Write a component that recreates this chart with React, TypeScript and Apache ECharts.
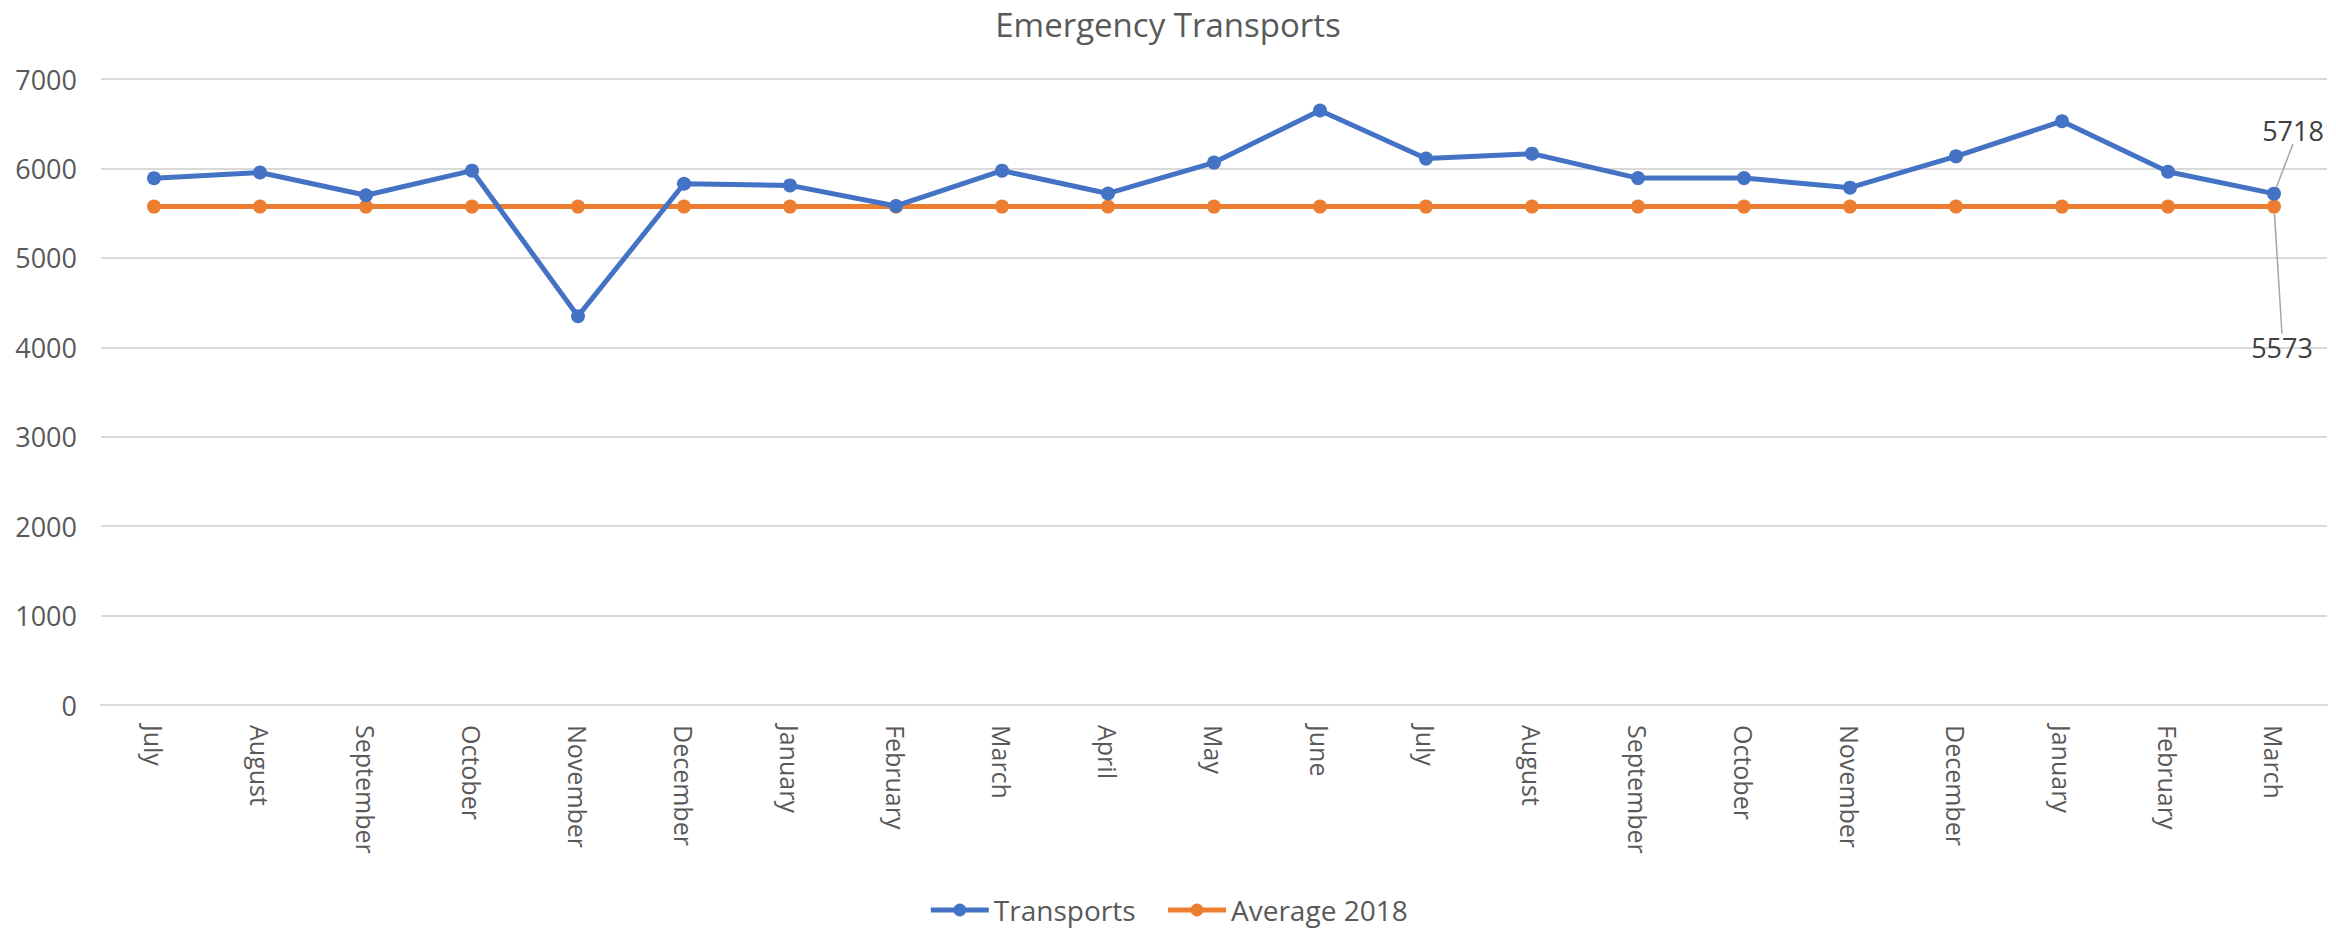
import React, { useEffect, useRef } from "react";
import * as echarts from "echarts";

const categories = [
  "July", "August", "September", "October", "November", "December", "January",
  "February", "March", "April", "May", "June", "July", "August", "September",
  "October", "November", "December", "January", "February", "March",
];
const transports = [
  5890, 5955, 5700, 5975, 4348, 5828, 5810, 5580, 5975, 5720, 6065, 6648,
  6110, 6165, 5892, 5892, 5785, 6135, 6528, 5963, 5718,
];
const average2018 = categories.map(() => 5573);
const yTicks = { min: 0, max: 7000, interval: 1000 };

export default function App() {
  const ref = useRef<HTMLDivElement>(null);
  useEffect(() => {
    if (!ref.current) return;
    const chart = echarts.init(ref.current, undefined, { renderer: "svg" });
    const last = transports.length - 1;
    chart.setOption({
      animation: false,
      backgroundColor: "#ffffff",
      title: {
        text: "Emergency Transports",
        left: "center",
        top: 3,
        textStyle: { fontFamily: "Open Sans", fontSize: 33, fontWeight: "normal", color: "#595959" },
      },
      legend: {
        bottom: 4,
        left: "center",
        itemWidth: 58,
        itemHeight: 16,
        itemGap: 30,
        textStyle: { fontFamily: "Open Sans", fontSize: 28, color: "#595959" },
        lineStyle: { width: 5 },
        data: ["Transports", "Average 2018"],
      },
      grid: { left: 101, right: 9, top: 79, bottom: 228, containLabel: false },
      xAxis: {
        type: "category",
        data: categories,
        boundaryGap: true,
        axisLine: { show: true, lineStyle: { color: "#D9D9D9", width: 2 } },
        axisTick: { show: false },
        axisLabel: {
          interval: 0,
          rotate: -90,
          margin: 20,
          fontFamily: "Open Sans",
          fontSize: 25,
          color: "#595959",
        },
      },
      yAxis: {
        type: "value",
        min: yTicks.min,
        max: yTicks.max,
        interval: yTicks.interval,
        axisLine: { show: false },
        axisTick: { show: false },
        axisLabel: {
          fontFamily: "Open Sans",
          fontSize: 27,
          color: "#595959",
          margin: 24,
          formatter: (v: number) => String(v),
        },
        splitLine: { lineStyle: { color: "#D9D9D9", width: 2 } },
      },
      series: [
        {
          name: "Transports",
          type: "line",
          data: transports.map((v, i) =>
            i === last
              ? { value: v, label: { show: true, position: "top" } }
              : v
          ),
          symbol: "circle",
          symbolSize: 14,
          lineStyle: { color: "#4472C4", width: 5 },
          itemStyle: { color: "#4472C4" },
          label: { show: false, fontFamily: "Open Sans", fontSize: 27, color: "#404040" },
          labelLayout: { dx: 19, dy: -38 },
          labelLine: { show: true, lineStyle: { color: "#A6A6A6", width: 1.5 } },
          z: 3,
        },
        {
          name: "Average 2018",
          type: "line",
          data: average2018.map((v, i) =>
            i === last
              ? { value: v, label: { show: true, position: "bottom" } }
              : v
          ),
          symbol: "circle",
          symbolSize: 14,
          lineStyle: { color: "#ED7D31", width: 5 },
          itemStyle: { color: "#ED7D31" },
          label: { show: false, fontFamily: "Open Sans", fontSize: 27, color: "#404040" },
          labelLayout: { dx: 8, dy: 115 },
          labelLine: { show: true, lineStyle: { color: "#A6A6A6", width: 1.5 } },
          z: 2,
        },
      ],
    });
    return () => chart.dispose();
  }, []);
  return (
    <div
      ref={ref}
      style={{ position: "fixed", left: 0, top: 0, width: 2336, height: 933 }}
    />
  );
}
